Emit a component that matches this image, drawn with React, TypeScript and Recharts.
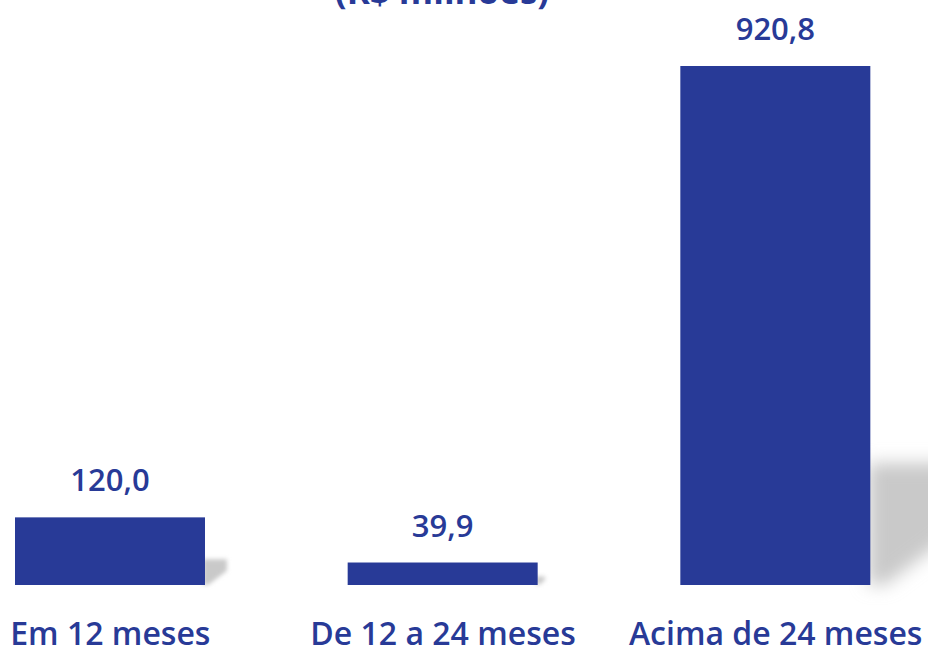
import React from "react";
import { BarChart, Bar, XAxis, YAxis, LabelList } from "recharts";

const categories = ["Em 12 meses", "De 12 a 24 meses", "Acima de 24 meses"];
const values = [120.0, 39.9, 920.8];
const valueLabels = ["120,0", "39,9", "920,8"];
const title = "(R$ milhões)";

const data = categories.map((c, i) => ({ name: c, value: values[i], label: valueLabels[i] }));

const BLUE = "#283a97";
const FONT = "'Open Sans', 'Noto Sans', sans-serif";

const ShadowBar = (props: any) => {
  const { x, y, width, height, index } = props;
  const R = x + width;
  const B = y + height;
  const sh = Math.min(122, Math.max(8, height * 0.38));
  const id = `shblur${index}`;
  const pts = [
    [R - 2, B - sh],
    [R + sh * 0.85, B - sh],
    [R + sh * 0.85, B - sh * 0.55],
    [R + sh * 0.12, B],
    [R - 2, B],
  ]
    .map((p) => p.join(","))
    .join(" ");
  return (
    <g>
      <defs>
        <filter id={id} x="-50%" y="-50%" width="200%" height="200%">
          <feGaussianBlur stdDeviation={Math.max(2, sh * 0.07)} />
        </filter>
      </defs>
      <polygon points={pts} fill="#c9c9c9" filter={`url(#${id})`} />
      <rect x={x} y={y} width={width} height={height} fill={BLUE} />
    </g>
  );
};

const Tick = (props: any) => {
  const { x, payload } = props;
  return (
    <text
      x={x}
      y={645}
      textAnchor="middle"
      fill={BLUE}
      fontFamily={FONT}
      fontWeight={600}
      fontSize={32}
    >
      {payload.value}
    </text>
  );
};

export default function App() {
  return (
    <div
      style={{
        position: "absolute",
        left: 0,
        top: 0,
        width: 928,
        height: 650,
        overflow: "hidden",
        background: "#ffffff",
      }}
    >
      <div style={{ position: "absolute", left: -56, top: 0 }}>
        <BarChart
          width={998}
          height={650}
          data={data}
          margin={{ top: 66, right: 0, bottom: 0, left: 0 }}
          barCategoryGap={71}
        >
          <XAxis
            dataKey="name"
            axisLine={false}
            tickLine={false}
            height={65}
            tick={<Tick />}
            interval={0}
          />
          <YAxis hide domain={[0, 920.8]} width={0} />
          <Bar
            dataKey="value"
            fill={BLUE}
            barSize={190}
            isAnimationActive={false}
            shape={<ShadowBar />}
          >
            <LabelList
              dataKey="label"
              position="top"
              offset={26}
              fill={BLUE}
              fontFamily={FONT}
              fontWeight={600}
              fontSize={31}
            />
          </Bar>
        </BarChart>
      </div>
      <svg
        width={928}
        height={40}
        style={{ position: "absolute", left: 0, top: 0 }}
      >
        <text
          x={442}
          y={4}
          textAnchor="middle"
          fill={BLUE}
          fontFamily={FONT}
          fontWeight={700}
          fontSize={35}
        >
          {title}
        </text>
      </svg>
    </div>
  );
}
